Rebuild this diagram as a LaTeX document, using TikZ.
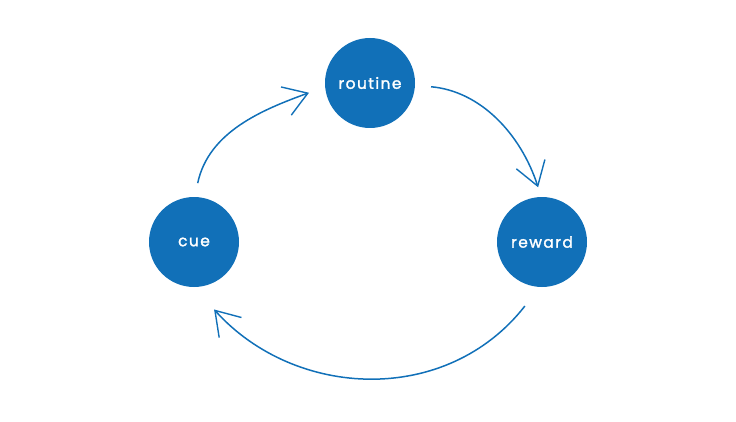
\documentclass[tikz,border=0pt]{standalone}
\usepackage{fontspec}
\setmainfont{Poppins}[LetterSpace=9,FakeBold=1.6]
\usetikzlibrary{arrows.meta}
\definecolor{habitblue}{HTML}{1170B8}
\tikzset{>={Straight Barb[length=23pt,width=30pt,line width=1.4pt]}}

\begin{document}
\begin{tikzpicture}[x=1pt,y=1pt,
  stage/.style={circle,fill=habitblue,minimum size=90pt,inner sep=0pt,
    text=white,font=\fontsize{15.5}{17}\selectfont},
  loop/.style={->,draw=habitblue,line width=1.5pt}]
\useasboundingbox (0,0) rectangle (736,421);
\node[stage] (routine) at (370,338) {routine};
\node[stage] (cue) at (194,179) {cue};
\node[stage] (reward) at (542,179) {reward};
% the habit loop
\draw[loop,shorten <=14pt,shorten >=17pt] (cue.89) to[out=78,in=200] (routine.185);
\draw[loop,shorten <=16pt,shorten >=10pt] (routine.-3) to[out=-5,in=108] (reward.91);
\draw[loop,shorten <=24pt,shorten >=30pt] (reward.267) to[out=-128,in=-48,looseness=1.12] (cue.270);
\end{tikzpicture}
\end{document}
